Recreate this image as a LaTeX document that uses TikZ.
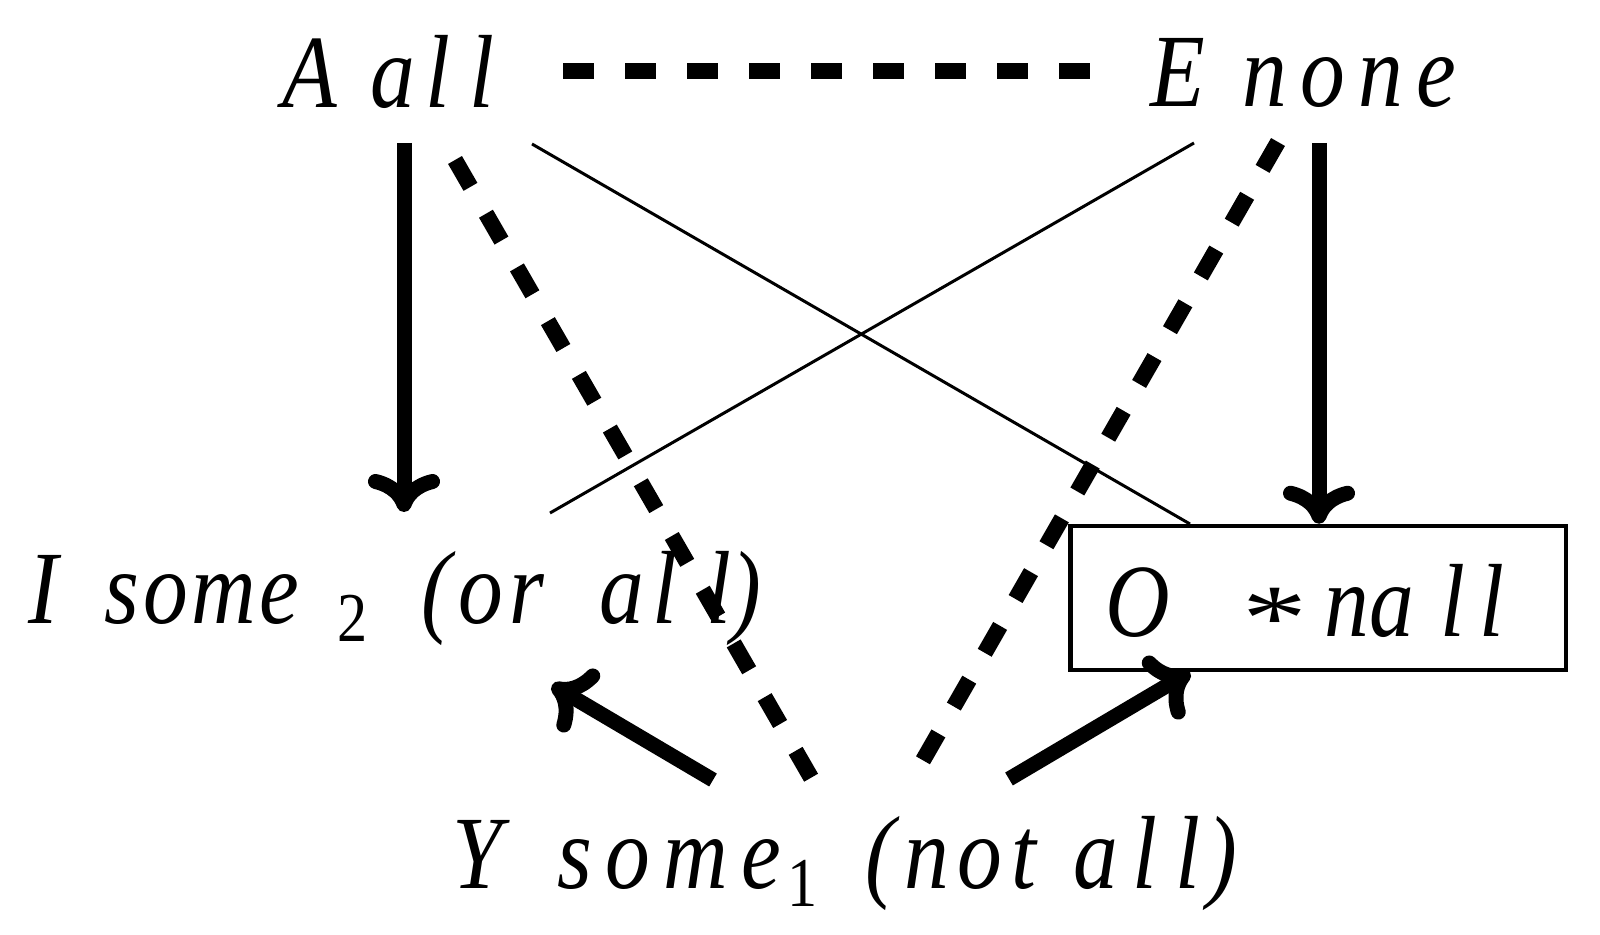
\documentclass[tikz,border=0pt]{standalone}
\usepackage{fontspec}
\usepackage{graphicx}
\setmainfont{Liberation Serif}[UprightFont={Liberation Serif}, ItalicFont={Liberation Serif Italic}, FakeStretch=0.86]
\usetikzlibrary{arrows.meta}
\newcommand\subdig[1]{\raisebox{-9pt}{\fontsize{35}{35}\selectfont\upshape #1}}
\newcommand\LS[2]{{\addfontfeature{LetterSpace=#1}#2}}
\newcommand\bigast{\raisebox{-6.8pt}{\scalebox{1.45}[0.9]{\upshape *}}}
\begin{document}
\begin{tikzpicture}[x=0.5pt,y=-0.5pt,
  lab/.style={inner sep=0pt, outer sep=0pt, anchor=base west,
    font=\fontsize{52}{60}\selectfont\itshape},
  boxlab/.style={draw, line width=2.25pt, inner sep=0pt, minimum width=247.75pt,
    minimum height=72pt, text height=38pt, text depth=0pt,
    font=\fontsize{52}{60}\selectfont\itshape},
  cmtip/.style={-{Computer Modern Rightarrow[length=19pt,width=36pt]}},
  heavyarrow/.style={line width=7.5pt, cmtip},
  thinline/.style={line width=1.5pt},
  dashline/.style={line width=8pt, dash pattern=on 15.5pt off 15.5pt}]
\fill[white] (0,0) rectangle (1600,935);
\useasboundingbox (0,0) rectangle (1600,935);

% labels
\node[lab] (A) at (282,108) {A\hspace{16.7pt}a\kern5.6pt l\kern9.5pt l};
\node[lab] (E) at (1150,107) {E\hspace{18.7pt}\LS{12.8}{none}};
\node[lab] (I) at (28,623) {I\hspace{23.5pt}\LS{3.5}{some}\kern19pt\subdig{2}\hspace{27pt}\LS{6.7}{(or}\hspace{27.5pt}a\kern4pt l\kern14.5pt l)};
\node[lab] (Y) at (452,888) {Y\hspace{27.7pt}\LS{13}{some}\kern3pt\subdig{1}\hspace{24pt}\LS{8.4}{(not}\hspace{19pt}a\kern7pt l\kern9pt l\kern3.5pt)};
\node[boxlab] (O) at (1318.25,598) {\makebox[247.75pt][l]{\hspace*{17.5pt}O\hspace{36pt}\bigast\hspace{9pt}na\kern13pt l\kern7pt l}};

% connector ends
\coordinate (aS) at (404,143);
\coordinate (iN) at (404,512);
\coordinate (eS) at (1319,143);
\coordinate (aE) at (563,71);
\coordinate (eW) at (1090,71);
\coordinate (aX) at (532,144);
\coordinate (oX) at (1190,524);
\coordinate (eX) at (1194,143);
\coordinate (iX) at (550,513);
\coordinate (aD) at (455,160);
\coordinate (yD1) at (813,781);
\coordinate (eD) at (1278,142);
\coordinate (yD2) at (922,762);
\coordinate (yL) at (713,780);
\coordinate (iT) at (552,685);
\coordinate (yR) at (1009,779);
\coordinate (oT) at (1190,672);

% contraries
\draw[dashline] (aE) -- (eW);
% subalterns
\draw[heavyarrow] (aS) -- (iN);
\draw[heavyarrow] (eS) -- (eS |- O.north);
% contradictories
\draw[thinline] (aX) -- (oX);
\draw[thinline] (eX) -- (iX);
% dashed to Y
\draw[dashline] (aD) -- (yD1);
\draw[dashline] (eD) -- (yD2);
% Y arrows
\draw[heavyarrow] (yL) -- (iT);
\draw[heavyarrow] (yR) -- (oT);
\end{tikzpicture}
\end{document}
